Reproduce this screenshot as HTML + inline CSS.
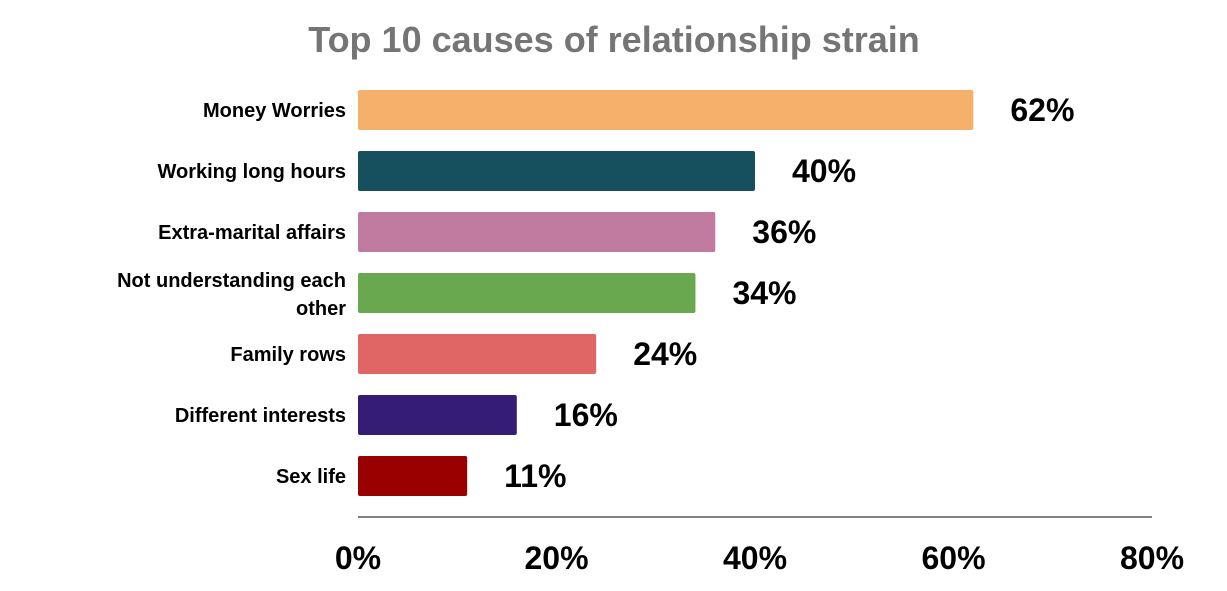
<!DOCTYPE html>
<html><head><meta charset="utf-8"><style>
html,body{margin:0;padding:0;background:#fff;}
svg{display:block;font-family:"Liberation Sans",Arial,sans-serif;}
</style></head><body>
<svg id="chart" width="1227" height="591">
<text x="614" y="52" text-anchor="middle" font-size="36" font-weight="bold" fill="#757575">Top 10 causes of relationship strain</text>
<g id="bars"></g>
<line x1="358" y1="517" x2="1152" y2="517" stroke="#000" stroke-width="1"/>
<g id="ticks"></g>
</svg>
<script>
const categories = ["Money Worries","Working long hours","Extra-marital affairs","Not understanding each other","Family rows","Different interests","Sex life"];
const values = [62,40,36,34,24,16,11];
const tickValues = [0,20,40,60,80];
const tickLabels = ["0%","20%","40%","60%","80%"];
const colors = ["#F5B06B","#16505E","#C17BA0","#6AA84F","#E06666","#351C75","#990000"];

const NS="http://www.w3.org/2000/svg";
const x0=358, x1=1152, xMax=80;
const xScale=v=>x0+(v/xMax)*(x1-x0);
const rowTop=90, rowStep=61, barH=40;
const yScale=i=>rowTop+i*rowStep;
const bars=document.getElementById('bars');
function mk(tag,attrs,text){const e=document.createElementNS(NS,tag);for(const k in attrs)e.setAttribute(k,attrs[k]);if(text!==undefined)e.textContent=text;return e;}
categories.forEach((c,i)=>{
  const y=yScale(i), w=xScale(values[i])-x0;
  const r=mk('rect',{x:x0,y:y,width:w,height:barH,fill:colors[i],rx:2});
  
  
  bars.appendChild(r);
  const cy=y+barH/2;
  if(c==="Not understanding each other"){
    const t=mk('text',{x:346,"text-anchor":"end","font-size":20,"font-weight":"bold",fill:"#000"});
    
    
    t.appendChild(mk('tspan',{x:346,y:cy-6},"Not understanding each"));
    t.appendChild(mk('tspan',{x:346,y:cy+22},"other"));
    bars.appendChild(t);
  } else {
    const t=mk('text',{x:346,y:cy+7,"text-anchor":"end","font-size":20,"font-weight":"bold",fill:"#000"},c);
    
    
    bars.appendChild(t);
  }
  const v=mk('text',{x:xScale(values[i])+37,y:cy+11,"font-size":32,"font-weight":"bold",fill:"#000"},values[i]+"%");
  
  
  bars.appendChild(v);
});
const ticks=document.getElementById('ticks');
tickValues.forEach((t,i)=>{
  const e=mk('text',{x:xScale(t),y:569,"text-anchor":"middle","font-size":32,"font-weight":"bold",fill:"#000"},tickLabels[i]);
  
  
  ticks.appendChild(e);
});
</script>
</body></html>
